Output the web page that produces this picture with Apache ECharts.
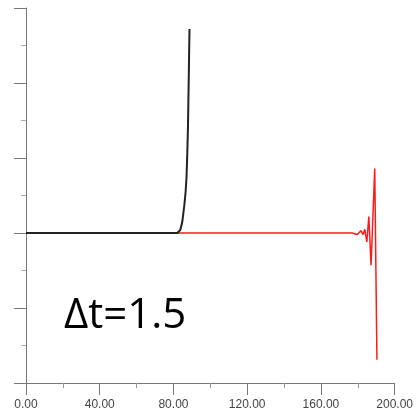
<!DOCTYPE html>
<html>
<head>
<meta charset="utf-8">
<script src="https://cdn.jsdelivr.net/npm/echarts@6/dist/echarts.min.js"></script>
<style>
  html, body { margin: 0; padding: 0; background: #fff; }
  #chart { width: 416px; height: 413px; }
</style>
</head>
<body>
<div id="chart"></div>
<script>
// 黑线：发散前的解
var blackX = [0, 20, 40, 60, 82.1, 83.7, 84.8, 85.9, 86.6, 87.1, 87.5, 87.9, 88.3, 88.7];
var blackY = [0, 0, 0, 0, 0, 0.04, 0.15, 0.37, 0.55, 0.75, 1.05, 1.45, 2.08, 2.72];
// 红线：振荡部分
var redX = [0, 40, 80, 120, 160, 177, 179.7, 181.7, 182.9, 183.8, 184.9, 186.0, 187.2, 189.2, 190.4];
var redY = [0, 0, 0, 0, 0, 0, -0.02, 0.03, -0.02, 0.05, -0.12, 0.22, -0.43, 0.86, -1.69];
var xTicks = [0, 40, 80, 120, 160, 200];

function pairs(xs, ys) {
    var out = [];
    for (var i = 0; i < xs.length; i++) {
        out.push([xs[i], ys[i]]);
    }
    return out;
}

var myChart = echarts.init(document.getElementById('chart'));
var option = {
    animation: false,
    grid: { left: 26, right: 15, top: 8, bottom: 30 },
    xAxis: {
        type: 'value',
        min: xTicks[0],
        max: xTicks[xTicks.length - 1],
        interval: 40,
        axisLine: { onZero: false, lineStyle: { color: '#777', width: 1 } },
        axisTick: { length: 12, lineStyle: { color: '#777' } },
        minorTick: { show: true, splitNumber: 2, length: 5, lineStyle: { color: '#999' } },
        splitLine: { show: false },
        axisLabel: {
            color: '#444',
            fontFamily: 'Liberation Sans',
            fontSize: 12,
            margin: 16,
            formatter: function (v) { return v.toFixed(2); }
        }
    },
    yAxis: {
        type: 'value',
        min: -2,
        max: 3,
        interval: 1,
        axisLine: { show: true, onZero: false, lineStyle: { color: '#777', width: 1 } },
        axisTick: { show: true, length: 12, lineStyle: { color: '#777' } },
        minorTick: { show: true, splitNumber: 2, length: 5, lineStyle: { color: '#aaa' } },
        splitLine: { show: false },
        axisLabel: { show: false }
    },
    graphic: [{
        type: 'text',
        left: 64,
        top: 295,
        style: {
            text: 'Δt=1.5',
            font: '42px "Open Sans"',
            fill: '#000'
        }
    }],
    series: [
        {
            type: 'line',
            data: pairs(redX, redY),
            showSymbol: false,
            lineStyle: { color: '#ff1a1a', width: 1.5 },
            z: 2
        },
        {
            type: 'line',
            data: pairs(blackX, blackY),
            showSymbol: false,
            lineStyle: { color: '#222', width: 2 },
            z: 3
        }
    ]
};
myChart.setOption(option);
</script>
</body>
</html>
